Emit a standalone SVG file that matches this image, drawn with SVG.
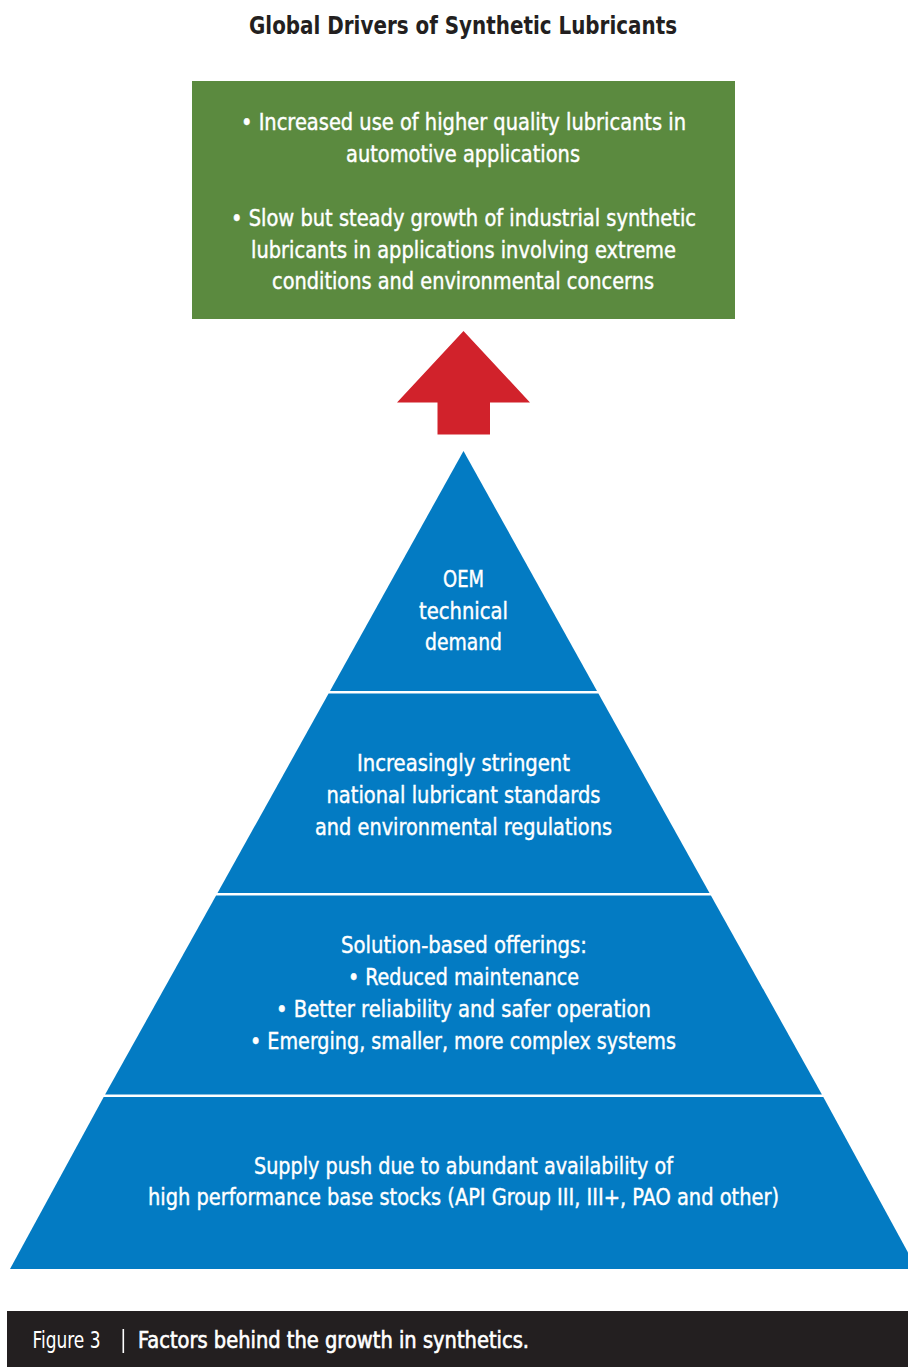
<svg xmlns="http://www.w3.org/2000/svg" width="908" height="1367" viewBox="0 0 908 1367">
<style>
  .t { font-family: "Liberation Sans Narrow", "DejaVu Sans Condensed", "Roboto", sans-serif; fill: #ffffff; stroke: #ffffff; stroke-width: 0.4px; text-anchor: middle; font-size: 23px; }
  .title { font-family: "Liberation Sans Narrow", "DejaVu Sans Condensed", "Roboto", sans-serif; fill: #231f20; text-anchor: middle; font-size: 25px; font-weight: bold; }
  .band { fill: #037bc3; }
  .cap { font-family: "Liberation Sans Narrow", "DejaVu Sans Condensed", "Roboto", sans-serif; fill: #ffffff; font-size: 23px; }
</style>
<rect width="908" height="1367" fill="#ffffff"/>

<g id="title">
  <text class="title" x="463" y="34" textLength="428" lengthAdjust="spacingAndGlyphs">Global Drivers of Synthetic Lubricants</text>
</g>

<g id="drivers-box">
  <rect x="192" y="81" width="543" height="238" fill="#5b8a3f"/>
  <text class="t" x="463.5" y="130" textLength="445" lengthAdjust="spacingAndGlyphs">• Increased use of higher quality lubricants in</text>
  <text class="t" x="463" y="161.5" textLength="234" lengthAdjust="spacingAndGlyphs">automotive applications</text>
  <text class="t" x="463.5" y="225.5" textLength="465" lengthAdjust="spacingAndGlyphs">• Slow but steady growth of industrial synthetic</text>
  <text class="t" x="463.5" y="257.5" textLength="425" lengthAdjust="spacingAndGlyphs">lubricants in applications involving extreme</text>
  <text class="t" x="463" y="289" textLength="382" lengthAdjust="spacingAndGlyphs">conditions and environmental concerns</text>
</g>

<g id="connectors">
  <polygon points="463.5,331 530,402.5 490,402.5 490,434.5 437.5,434.5 437.5,402.5 397,402.5" fill="#d1222b"/>
</g>

<g id="band-oem">
  <polygon class="band" points="463.5,451 597,691 330,691"/>
  <text class="t" x="463.5" y="587" textLength="41" lengthAdjust="spacingAndGlyphs">OEM</text>
  <text class="t" x="463.5" y="618.5" textLength="89" lengthAdjust="spacingAndGlyphs">technical</text>
  <text class="t" x="463.5" y="650" textLength="77" lengthAdjust="spacingAndGlyphs">demand</text>
</g>

<g id="band-standards">
  <polygon class="band" points="328.6,693.5 598.4,693.5 709.5,893 217.5,893"/>
  <text class="t" x="463.5" y="770.5" textLength="213" lengthAdjust="spacingAndGlyphs">Increasingly stringent</text>
  <text class="t" x="463.5" y="802.5" textLength="274" lengthAdjust="spacingAndGlyphs">national lubricant standards</text>
  <text class="t" x="463.5" y="834.5" textLength="297" lengthAdjust="spacingAndGlyphs">and environmental regulations</text>
</g>

<g id="band-solutions">
  <polygon class="band" points="216.1,895.5 710.9,895.5 821.9,1094.5 105.1,1094.5"/>
  <text class="t" x="464" y="952.5" textLength="246" lengthAdjust="spacingAndGlyphs">Solution-based offerings:</text>
  <text class="t" x="463.5" y="984.5" textLength="231" lengthAdjust="spacingAndGlyphs">• Reduced maintenance</text>
  <text class="t" x="463.5" y="1016.5" textLength="375" lengthAdjust="spacingAndGlyphs">• Better reliability and safer operation</text>
  <text class="t" x="463" y="1048.5" textLength="426" lengthAdjust="spacingAndGlyphs">• Emerging, smaller, more complex systems</text>
</g>

<g id="band-supply">
  <polygon class="band" points="103.7,1097 823.3,1097 917,1269 10,1269"/>
  <text class="t" x="463.5" y="1173.5" textLength="419" lengthAdjust="spacingAndGlyphs">Supply push due to abundant availability of</text>
  <text class="t" x="463.5" y="1204.5" textLength="631" lengthAdjust="spacingAndGlyphs">high performance base stocks (API Group III, III+, PAO and other)</text>
</g>

<g id="caption">
  <rect x="7" y="1311" width="901" height="56" fill="#231f20"/>
  <text class="cap" x="32.5" y="1347.5" textLength="68" lengthAdjust="spacingAndGlyphs" style="font-weight:300">Figure 3</text>
  <rect x="122.5" y="1329" width="1.6" height="24" fill="#ffffff"/>
  <text class="cap" x="138" y="1347.5" textLength="391" lengthAdjust="spacingAndGlyphs" style="stroke:#ffffff;stroke-width:0.6px">Factors behind the growth in synthetics.</text>
</g>
</svg>
